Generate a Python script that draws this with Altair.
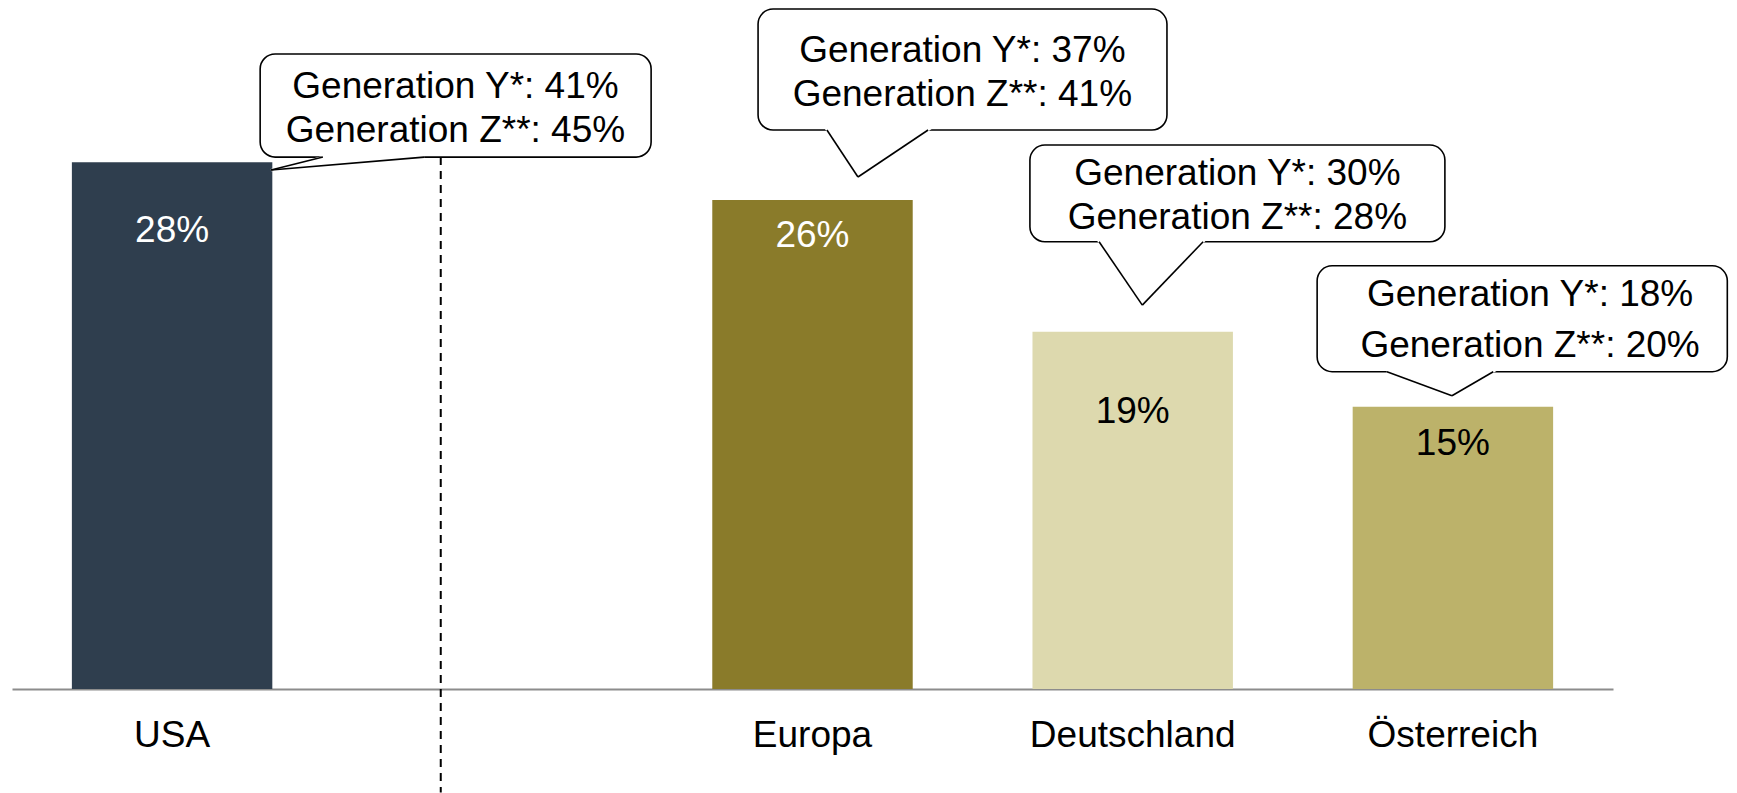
import altair as alt
import pandas as pd

# ---------------- data ----------------
categories = ["USA", "Europa", "Deutschland", "Österreich"]
shares = [28, 26, 19, 15]              # main bar values (%)
gen_y = [41, 37, 30, 18]               # Generation Y* (%)
gen_z = [45, 41, 28, 20]               # Generation Z** (%)
slots = ["USA", " ", "Europa", "Deutschland", "Österreich"]   # x slots (blank gap after USA)

bar_colors = ["#2F3E4E", "#8A7B2A", "#DDD9AE", "#BCB26A"]
label_colors = ["#FFFFFF", "#FFFFFF", "#000000", "#000000"]

# ------------- annotation layout (x in slot units, y in % units) -------------
label_y = [23.78, 23.51, 14.13, 12.44]          # baseline of the value labels
box_x1 = [0.775, 2.330, 3.179, 4.076]
box_x2 = [1.996, 3.607, 4.475, 5.357]
box_top = [33.76, 36.15, 28.92, 22.50]
box_bot = [28.28, 29.72, 23.78, 16.87]
tail_xl = [0.971, 2.545, 3.395, 4.294]
tail_xr = [1.287, 2.861, 3.720, 4.626]
tail_xt = [0.809, 2.642, 3.530, 4.497]
tail_yt = [27.59, 27.22, 20.41, 15.59]
text_cx = [1.385, 2.968, 3.827, 4.741]
line1_y = [31.42, 33.32, 26.79, 20.36]
line2_y = [29.08, 30.99, 24.44, 17.65]
divider_x = 1.339
divider_y = [28.28, -5.5]

FONT = "Liberation Sans"
FS = 37
W, H = 1601, 679

bars_df = pd.DataFrame({
    "category": categories,
    "share": shares,
    "label": [f"{v}%" for v in shares],
    "label_y": label_y,
    "label_color": label_colors,
})

boxes_df = pd.DataFrame({
    "category": categories,
    "x1": box_x1, "x2": box_x2, "top": box_top, "bot": box_bot,
})

tail_area_rows, tail_line_rows, text_rows = [], [], []
for i, c in enumerate(categories):
    tail_area_rows.append({"c": c, "y": box_bot[i], "xa": tail_xl[i], "xb": tail_xr[i]})
    tail_area_rows.append({"c": c, "y": tail_yt[i], "xa": tail_xt[i], "xb": tail_xt[i]})
    for xs in (tail_xl[i], tail_xr[i]):
        tail_line_rows.append({"c": c, "x": xs, "y": box_bot[i], "x2": tail_xt[i], "y2": tail_yt[i]})
    text_rows.append({"c": c, "x": text_cx[i], "y": line1_y[i], "t": f"Generation Y*: {gen_y[i]}%"})
    text_rows.append({"c": c, "x": text_cx[i], "y": line2_y[i], "t": f"Generation Z**: {gen_z[i]}%"})

tail_area_df = pd.DataFrame(tail_area_rows)
tail_line_df = pd.DataFrame(tail_line_rows)
text_df = pd.DataFrame(text_rows)
divider_df = pd.DataFrame({"x": [divider_x], "y": [divider_y[0]], "y2": [divider_y[1]]})

yscale = alt.Scale(domain=[0, 36.1], nice=False, zero=False)
xq = alt.Scale(domain=[0, 5], nice=False, zero=False)
xband = alt.Scale(domain=slots, paddingInner=0.374, paddingOuter=0.187)

bars = alt.Chart(bars_df).mark_bar().encode(
    x=alt.X("category:N", scale=xband, sort=slots, axis=alt.Axis(
        title=None, labelFont=FONT, labelFontSize=FS, labelColor="#000000",
        labelAngle=0, ticks=False, tickSize=0, labelPadding=57,
        labelBaseline="alphabetic", labelOverlap=False, labelLimit=600,
        domainColor="#8C8C8C", domainWidth=2.2, grid=False)),
    y=alt.Y("share:Q", scale=yscale, axis=None),
    color=alt.Color("category:N", scale=alt.Scale(domain=categories, range=bar_colors), legend=None),
)

bar_labels = alt.Chart(bars_df).mark_text(
    font=FONT, fontSize=FS, align="center", baseline="alphabetic"
).encode(
    x=alt.X("category:N", scale=xband, sort=slots, axis=None),
    y=alt.Y("label_y:Q", scale=yscale, axis=None),
    text="label:N",
    color=alt.Color("label_color:N", scale=None),
)

divider = alt.Chart(divider_df).mark_rule(
    color="#000000", strokeWidth=2, strokeDash=[8, 6]
).encode(
    x=alt.X("x:Q", scale=xq, axis=None),
    y=alt.Y("y:Q", scale=yscale, axis=None),
    y2="y2:Q",
)

boxes = alt.Chart(boxes_df).mark_rect(
    fill="#FFFFFF", stroke="#000000", strokeWidth=1.6, cornerRadius=15
).encode(
    x=alt.X("x1:Q", scale=xq, axis=None),
    x2="x2:Q",
    y=alt.Y("top:Q", scale=yscale, axis=None),
    y2="bot:Q",
)

tail_fill = alt.Chart(tail_area_df).mark_area(
    orient="horizontal", fill="#FFFFFF", stroke="#FFFFFF", strokeWidth=2.2
).encode(
    y=alt.Y("y:Q", scale=yscale, axis=None),
    x=alt.X("xa:Q", scale=xq, axis=None),
    x2="xb:Q",
    detail="c:N",
)

tail_lines = alt.Chart(tail_line_df).mark_rule(
    color="#000000", strokeWidth=1.6
).encode(
    x=alt.X("x:Q", scale=xq, axis=None),
    x2="x2:Q",
    y=alt.Y("y:Q", scale=yscale, axis=None),
    y2="y2:Q",
)

box_text = alt.Chart(text_df).mark_text(
    font=FONT, fontSize=FS, align="center", baseline="alphabetic", color="#000000"
).encode(
    x=alt.X("x:Q", scale=xq, axis=None),
    y=alt.Y("y:Q", scale=yscale, axis=None),
    text="t:N",
)

chart = alt.layer(
    bars, bar_labels, divider, boxes, tail_fill, tail_lines, box_text
).resolve_scale(
    x="independent"
).properties(
    width=W, height=H,
    autosize=alt.AutoSizeParams(type="none"),
    padding={"left": 4, "top": 2, "right": 116, "bottom": 104},
    background="#FFFFFF",
).configure_view(stroke=None)

chart.save("out.html", embed_options={"renderer": "svg", "actions": False})
